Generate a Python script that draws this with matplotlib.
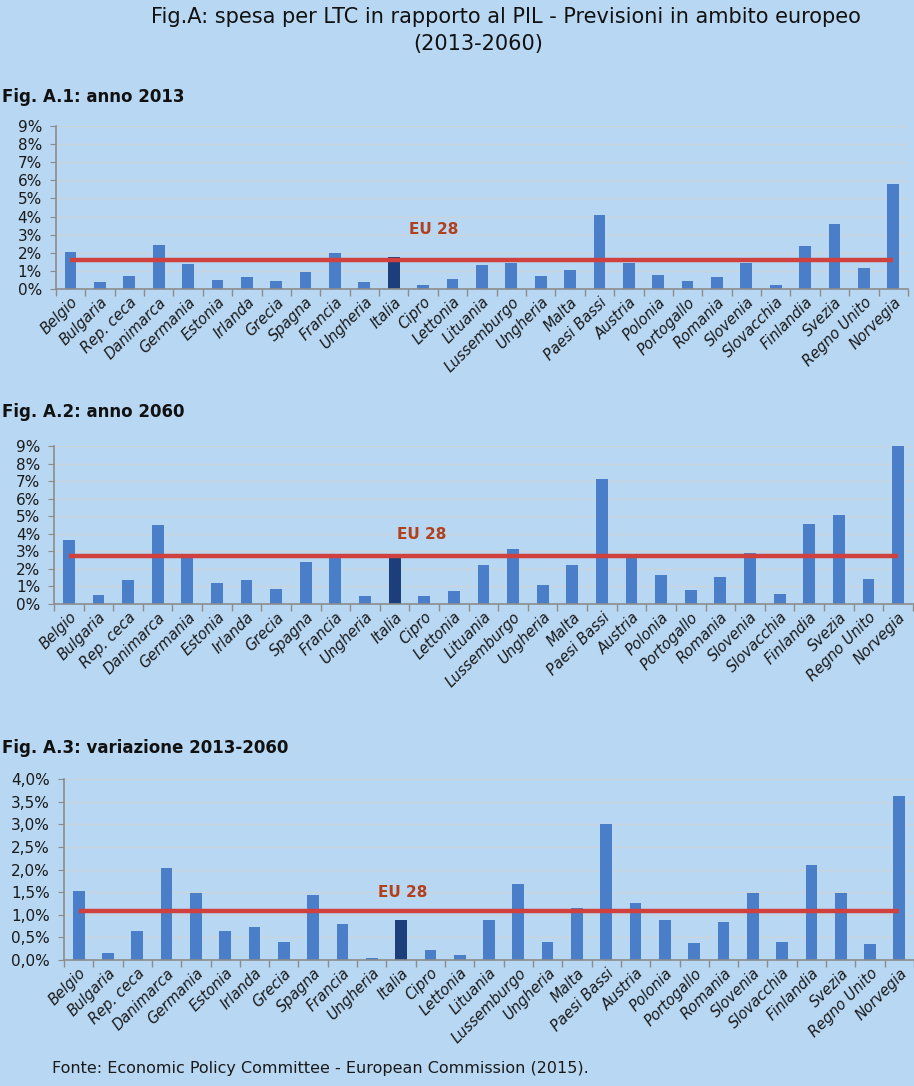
import matplotlib
matplotlib.use("Agg")
import matplotlib.pyplot as plt
import numpy as np
from matplotlib.ticker import FuncFormatter, FixedLocator

categories = ["Belgio", "Bulgaria", "Rep. ceca", "Danimarca", "Germania", "Estonia",
              "Irlanda", "Grecia", "Spagna", "Francia", "Ungheria", "Italia", "Cipro",
              "Lettonia", "Lituania", "Lussemburgo", "Ungheria", "Malta", "Paesi Bassi",
              "Austria", "Polonia", "Portogallo", "Romania", "Slovenia", "Slovacchia",
              "Finlandia", "Svezia", "Regno Unito", "Norvegia"]

v2013 = [2.05, 0.37, 0.72, 2.42, 1.37, 0.50, 0.65, 0.44, 0.92, 1.97, 0.37, 1.77, 0.24,
         0.57, 1.35, 1.42, 0.72, 1.07, 4.08, 1.42, 0.79, 0.42, 0.66, 1.42, 0.24, 2.40,
         3.58, 1.14, 5.77]
v2060 = [3.63, 0.53, 1.39, 4.50, 2.75, 1.18, 1.39, 0.87, 2.41, 2.75, 0.46, 2.75, 0.46,
         0.74, 2.24, 3.11, 1.10, 2.24, 7.14, 2.70, 1.67, 0.80, 1.54, 2.89, 0.59, 4.56,
         5.05, 1.44, 9.00]
vdiff = [1.52, 0.15, 0.65, 2.03, 1.47, 0.65, 0.74, 0.40, 1.44, 0.80, 0.04, 0.88, 0.23,
         0.12, 0.88, 1.69, 0.40, 1.16, 3.00, 1.27, 0.88, 0.38, 0.85, 1.47, 0.40, 2.11,
         1.47, 0.35, 3.62]
eu_values = [1.60, 2.73, 1.09]

panel_titles = ["Fig. A.1: anno 2013", "Fig. A.2: anno 2060", "Fig. A.3: variazione 2013-2060"]
main_title_1 = "Fig.A: spesa per LTC in rapporto al PIL - Previsioni in ambito europeo"
main_title_2 = "(2013-2060)"
source_text = "Fonte: Economic Policy Committee - European Commission (2015)."
eu_label = "EU 28"
highlight = "Italia"

BG = "#B8D7F2"
BAR = "#4A7EC8"
BAR_DARK = "#1C3F7C"
EU_LINE = "#D0403C"
EU_TEXT = "#B0401E"
GRID = "#C8D3DB"
SPINE = "#8C8C8C"

plt.rcParams['font.family'] = ['DejaVu Sans']

fig = plt.figure(figsize=(9.14, 10.86), dpi=100, facecolor=BG)

W, H = 914.0, 1086.0
# axes boxes in pixels: left, right, top, bottom
boxes = [(55.8, 908.0, 126, 289), (54.0, 912.9, 446, 604), (64.0, 914.0, 779, 960)]
ylims = [(0, 9), (0, 9), (0, 4)]
yticks = [np.arange(0, 10, 1), np.arange(0, 10, 1), np.arange(0, 4.01, 0.5)]
fmts = [lambda v, p: f"{v:.0f}%", lambda v, p: f"{v:.0f}%",
        lambda v, p: f"{v:.1f}%".replace(".", ",")]
series = [v2013, v2060, vdiff]
eu_text_pos = [(12.36, 3.26), (11.9, 3.94), (11.06, 1.50)]
sub_y = [97, 412, 748]

x = np.arange(len(categories))
for i in range(3):
    l, r, t, b = boxes[i]
    ax = fig.add_axes([l / W, 1 - b / H, (r - l) / W, (b - t) / H])
    ax.set_facecolor(BG)
    colors = [BAR_DARK if c == highlight else BAR for c in categories]
    ax.bar(x, series[i], width=0.4, color=colors, zorder=2)
    ax.hlines(eu_values[i], 0, len(categories) - 1, colors=EU_LINE, linewidth=3.2, zorder=3)
    ax.text(eu_text_pos[i][0], eu_text_pos[i][1], eu_label, color=EU_TEXT,
            fontsize=11, fontweight='bold', ha='center', va='center', zorder=4)
    ax.set_xlim(-0.5, len(categories) - 0.5)
    ax.set_ylim(*ylims[i])
    ax.set_yticks(yticks[i])
    ax.yaxis.set_major_formatter(FuncFormatter(fmts[i]))
    ax.yaxis.grid(True, color=GRID, linewidth=1.0, zorder=0)
    ax.set_axisbelow(True)
    for s in ["top", "right"]:
        ax.spines[s].set_visible(False)
    for s in ["left", "bottom"]:
        ax.spines[s].set_color(SPINE)
        ax.spines[s].set_linewidth(1.2)
    ax.tick_params(axis='y', length=4, color=SPINE, labelsize=11, pad=6, labelcolor="#1a1a1a")
    ax.set_xticks(x)
    ax.set_xticklabels(categories, rotation=45, ha='right', rotation_mode='anchor',
                       fontsize=10.5, fontstyle='italic', color="#1a1a1a")
    ax.tick_params(axis='x', which='major', length=0, pad=4)
    ax.xaxis.set_minor_locator(FixedLocator(np.arange(-0.5, len(categories) + 0.5, 1)))
    ax.tick_params(axis='x', which='minor', length=5, color=SPINE, width=1.0)
    fig.text(2 / W, 1 - sub_y[i] / H, panel_titles[i], fontsize=12, fontweight='bold',
             ha='left', va='center', color="#111111")

fig.text(506 / W, 1 - 17 / H, main_title_1, fontsize=15,
         ha='center', va='center', color="#111111")
fig.text(478 / W, 1 - 44 / H, main_title_2, fontsize=15,
         ha='center', va='center', color="#111111")
fig.text(52 / W, 1 - 1068 / H, source_text, fontsize=11.5, ha='left', va='center', color="#1a1a1a")

fig.savefig("out.png", dpi=100, facecolor=BG)
